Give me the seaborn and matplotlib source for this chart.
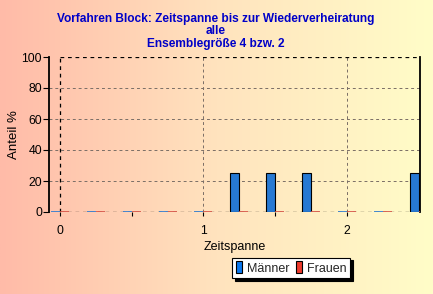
import numpy as np
import pandas as pd
import matplotlib
matplotlib.use("Agg")
import matplotlib.pyplot as plt
import seaborn as sns
from matplotlib.colors import LinearSegmentedColormap
from matplotlib.patches import Rectangle

# ---- data ----
zeitspanne = [0.0, 0.25, 0.5, 0.75, 1.0, 1.25, 1.5, 1.75, 2.0, 2.25, 2.5]
maenner = [0, 0, 0, 0, 0, 25, 25, 25, 0, 0, 25]
frauen = [0, 0, 0, 0, 0, 0, 0, 0, 0, 0, 0]
series = ["Männer", "Frauen"]
colors = ["#0A78F0", "#EE3A2C"]
title_lines = ["Vorfahren Block: Zeitspanne bis zur Wiederverheiratung", "alle", "Ensemblegröße 4 bzw. 2"]
yticks = [0, 20, 40, 60, 80, 100]
xticks = [0, 1, 2]

df = pd.DataFrame({
    "Zeitspanne": zeitspanne * 2,
    "Anteil": maenner + frauen,
    "Serie": [series[0]] * len(zeitspanne) + [series[1]] * len(zeitspanne),
})

sns.set_theme(style="white")
plt.rcParams["font.family"] = ["Liberation Sans", "DejaVu Sans"]

fig = plt.figure(figsize=(4.33, 2.94), dpi=100)

# background gradient
bg = fig.add_axes([0, 0, 1, 1], zorder=-10)
cmap = LinearSegmentedColormap.from_list("bg", ["#FFBBA8", "#FFE3BE", "#FFFDC8"])
grad = np.linspace(0, 1, 256).reshape(1, -1)
bg.imshow(grad, aspect="auto", cmap=cmap, extent=[0, 1, 0, 1])
bg.set_axis_off()

ax = fig.add_axes([49 / 433, 1 - 212 / 294, (420 - 49) / 433, (212 - 57) / 294])
ax.patch.set_alpha(0)

sns.barplot(data=df, x="Zeitspanne", y="Anteil", hue="Serie", native_scale=True,
            palette=colors, width=0.5, dodge=True, ax=ax, legend=False,
            edgecolor="black", linewidth=0.8, errorbar=None, zorder=3)

for p in ax.patches:
    if p.get_height() == 0:
        p.set_edgecolor(p.get_facecolor())
        p.set_linewidth(1.2)

ax.set_xlim(-0.077, 2.51)
ax.set_ylim(0, 100)

# grid & frame
for yv in [20, 40, 60, 80]:
    ax.axhline(yv, color="#7a6e66", lw=0.7, ls=(0, (3, 3)), zorder=1)
for xv in [1, 2]:
    ax.axvline(xv, color="#7a6e66", lw=0.7, ls=(0, (3, 3)), zorder=1)
ax.axvline(0, color="black", lw=0.9, ls=(0, (3, 3)), zorder=2)
ax.hlines([100], 0, 2.51, color="black", lw=0.9, ls=(0, (3, 3)), zorder=2)
ax.hlines([0], 0, 2.51, color="black", lw=0.9, ls=(0, (3, 3)), zorder=2)

for s in ["top", "bottom"]:
    ax.spines[s].set_visible(False)
for s in ["left", "right"]:
    ax.spines[s].set_visible(True)
    ax.spines[s].set_color("black")
    ax.spines[s].set_linewidth(1.3)

ax.set_yticks(yticks)
ax.set_xticks(xticks)
ax.set_xticks([0.5, 1.5], minor=True)
ax.tick_params(axis="y", left=True, length=4, width=0.8, colors="black", labelsize=8.8, pad=1)
ax.tick_params(axis="x", which="both", bottom=True, length=3, width=0.8, colors="black", labelsize=8.8, pad=6)
ax.set_xticklabels([str(v) for v in xticks])
ax.set_yticklabels([str(v) for v in yticks])

ax.set_xlabel("Zeitspanne", fontsize=9, color="black", labelpad=3)
ax.set_ylabel("Anteil %", fontsize=9.5, color="black", labelpad=1)

for i, yp in enumerate([19, 31, 44]):
    fig.text(216 / 433, 1 - yp / 294, title_lines[i], ha="center", va="center",
             fontsize=8.6, fontweight="bold", color="#0000C8")

# legend
handles = [Rectangle((0, 0), 1, 1, facecolor=c, edgecolor="black", lw=0.8) for c in colors]
leg = fig.legend(handles, series, loc="center", bbox_to_anchor=(291 / 433, 1 - 268 / 294),
                 ncol=2, frameon=True, fancybox=False, shadow={"color": "black", "alpha": 1},
                 fontsize=9, handlelength=0.5, handleheight=1.1, handletextpad=0.4,
                 columnspacing=0.5, borderpad=0.3, borderaxespad=0)
leg.get_frame().set_edgecolor("black")
leg.get_frame().set_facecolor("white")
leg.get_frame().set_linewidth(0.8)

fig.savefig("out.png", dpi=100)
